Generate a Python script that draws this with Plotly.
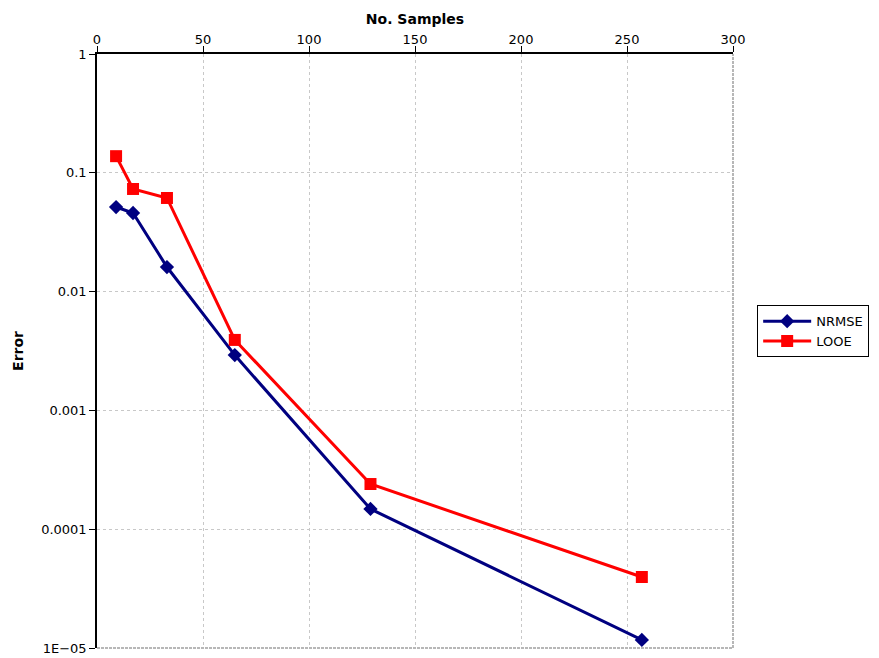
import plotly.graph_objects as go

samples = [9, 17, 33, 65, 129, 257]
nrmse = [0.0515, 0.0459, 0.0161, 0.00292, 0.000148, 0.0000117]
looe = [0.138, 0.0731, 0.0614, 0.00392, 0.00024, 0.0000396]

y_tickvals = [1, 0.1, 0.01, 0.001, 0.0001, 0.00001]
y_ticktext = ["1", "0.1", "0.01", "0.001", "0.0001", "1E\u221205"]
x_tickvals = [0, 50, 100, 150, 200, 250, 300]

fig = go.Figure()
fig.add_trace(go.Scatter(x=samples, y=nrmse, name="NRMSE", mode="lines+markers",
                         line=dict(color="#000080", width=3),
                         marker=dict(symbol="diamond", size=11, color="#000080")))
fig.add_trace(go.Scatter(x=samples, y=looe, name="LOOE", mode="lines+markers",
                         line=dict(color="#ff0000", width=3),
                         marker=dict(symbol="square", size=12, color="#ff0000")))

font = dict(family="DejaVu Sans", size=13, color="#000000")
fig.update_layout(
    width=871, height=650,
    margin=dict(l=89, r=146, t=46, b=10, autoexpand=False),
    paper_bgcolor="white", plot_bgcolor="white",
    font=font,
    showlegend=True,
    legend=dict(x=1.038, y=0.577, xanchor="left", yanchor="top",
                bordercolor="#000000", borderwidth=1, bgcolor="white",
                font=dict(family="DejaVu Sans", size=13), tracegroupgap=0,
                itemwidth=48),
    xaxis=dict(side="top", range=[0, 300], tickvals=x_tickvals, automargin=False,
               showgrid=True, gridcolor="#c8c8c8", griddash="3px,3px", gridwidth=1,
               showline=True, linecolor="#000000", linewidth=1.5,
               ticks="outside", ticklen=6, tickcolor="#000000",
               ticklabelstandoff=-3,
               zeroline=False,
               title=dict(text="<b>No. Samples</b>", font=dict(family="DejaVu Sans", size=14), standoff=4)),
    yaxis=dict(type="log", range=[-5, 0], tickvals=y_tickvals, ticktext=y_ticktext, automargin=False,
               showgrid=True, gridcolor="#c8c8c8", griddash="3px,3px", gridwidth=1,
               showline=True, linecolor="#000000", linewidth=1.5,
               ticks="outside", ticklen=6, tickcolor="#000000",
               zeroline=False,
               title=dict(text="<b>Error</b>", font=dict(family="DejaVu Sans", size=14), standoff=14)),
)
fig.add_shape(type="line", xref="paper", yref="paper", x0=1, x1=1, y0=0, y1=1,
              line=dict(color="#a0a0a0", width=1.5, dash="3px,1px"))
fig.add_shape(type="line", xref="paper", yref="paper", x0=0, x1=1, y0=0, y1=0,
              line=dict(color="#a0a0a0", width=1.5, dash="3px,1px"))
fig.write_html("out.html")
